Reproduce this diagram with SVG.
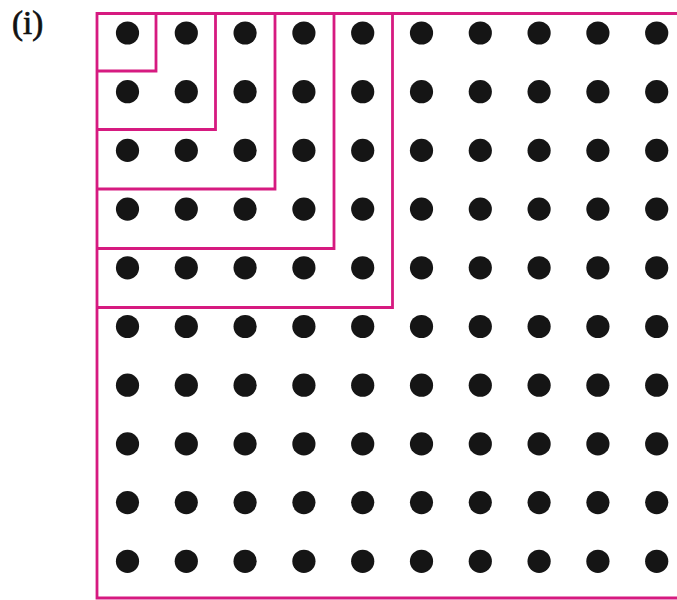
<svg xmlns="http://www.w3.org/2000/svg" width="677" height="600" viewBox="0 0 677 600">
<defs>
<style>
.dot{fill:#151515}
.ln{fill:none;stroke:#d61a80;stroke-width:2.8}
.lbl{font-family:"Liberation Serif",serif;font-size:33px;fill:#111;stroke:#111;stroke-width:0.7}
</style>
<circle id="d" class="dot" r="11.6"/>
</defs>
<rect width="677" height="600" fill="#fff"/>
<text class="lbl" x="12" y="34">(i)</text>
<g id="dots">
<g id="row0" transform="translate(0,33)"><use href="#d" x="127.5"/><use href="#d" x="186.3"/><use href="#d" x="245.1"/><use href="#d" x="303.9"/><use href="#d" x="362.7"/><use href="#d" x="421.5"/><use href="#d" x="480.3"/><use href="#d" x="539.1"/><use href="#d" x="597.9"/><use href="#d" x="656.7"/></g>
<g id="row1" transform="translate(0,91.7)"><use href="#d" x="127.5"/><use href="#d" x="186.3"/><use href="#d" x="245.1"/><use href="#d" x="303.9"/><use href="#d" x="362.7"/><use href="#d" x="421.5"/><use href="#d" x="480.3"/><use href="#d" x="539.1"/><use href="#d" x="597.9"/><use href="#d" x="656.7"/></g>
<g id="row2" transform="translate(0,150.4)"><use href="#d" x="127.5"/><use href="#d" x="186.3"/><use href="#d" x="245.1"/><use href="#d" x="303.9"/><use href="#d" x="362.7"/><use href="#d" x="421.5"/><use href="#d" x="480.3"/><use href="#d" x="539.1"/><use href="#d" x="597.9"/><use href="#d" x="656.7"/></g>
<g id="row3" transform="translate(0,209.1)"><use href="#d" x="127.5"/><use href="#d" x="186.3"/><use href="#d" x="245.1"/><use href="#d" x="303.9"/><use href="#d" x="362.7"/><use href="#d" x="421.5"/><use href="#d" x="480.3"/><use href="#d" x="539.1"/><use href="#d" x="597.9"/><use href="#d" x="656.7"/></g>
<g id="row4" transform="translate(0,267.8)"><use href="#d" x="127.5"/><use href="#d" x="186.3"/><use href="#d" x="245.1"/><use href="#d" x="303.9"/><use href="#d" x="362.7"/><use href="#d" x="421.5"/><use href="#d" x="480.3"/><use href="#d" x="539.1"/><use href="#d" x="597.9"/><use href="#d" x="656.7"/></g>
<g id="row5" transform="translate(0,326.5)"><use href="#d" x="127.5"/><use href="#d" x="186.3"/><use href="#d" x="245.1"/><use href="#d" x="303.9"/><use href="#d" x="362.7"/><use href="#d" x="421.5"/><use href="#d" x="480.3"/><use href="#d" x="539.1"/><use href="#d" x="597.9"/><use href="#d" x="656.7"/></g>
<g id="row6" transform="translate(0,385.2)"><use href="#d" x="127.5"/><use href="#d" x="186.3"/><use href="#d" x="245.1"/><use href="#d" x="303.9"/><use href="#d" x="362.7"/><use href="#d" x="421.5"/><use href="#d" x="480.3"/><use href="#d" x="539.1"/><use href="#d" x="597.9"/><use href="#d" x="656.7"/></g>
<g id="row7" transform="translate(0,443.9)"><use href="#d" x="127.5"/><use href="#d" x="186.3"/><use href="#d" x="245.1"/><use href="#d" x="303.9"/><use href="#d" x="362.7"/><use href="#d" x="421.5"/><use href="#d" x="480.3"/><use href="#d" x="539.1"/><use href="#d" x="597.9"/><use href="#d" x="656.7"/></g>
<g id="row8" transform="translate(0,502.6)"><use href="#d" x="127.5"/><use href="#d" x="186.3"/><use href="#d" x="245.1"/><use href="#d" x="303.9"/><use href="#d" x="362.7"/><use href="#d" x="421.5"/><use href="#d" x="480.3"/><use href="#d" x="539.1"/><use href="#d" x="597.9"/><use href="#d" x="656.7"/></g>
<g id="row9" transform="translate(0,561.3)"><use href="#d" x="127.5"/><use href="#d" x="186.3"/><use href="#d" x="245.1"/><use href="#d" x="303.9"/><use href="#d" x="362.7"/><use href="#d" x="421.5"/><use href="#d" x="480.3"/><use href="#d" x="539.1"/><use href="#d" x="597.9"/><use href="#d" x="656.7"/></g>
</g>
<g id="lines">
<path class="ln" d="M677,13.5 H97 V598 H677"/>
<path class="ln" d="M97,71 H156 V13.5"/>
<path class="ln" d="M97,129.5 H215.5 V13.5"/>
<path class="ln" d="M97,189 H275 V13.5"/>
<path class="ln" d="M97,248.5 H334 V13.5"/>
<path class="ln" d="M97,307.5 H392.5 V13.5"/>
</g>
</svg>
